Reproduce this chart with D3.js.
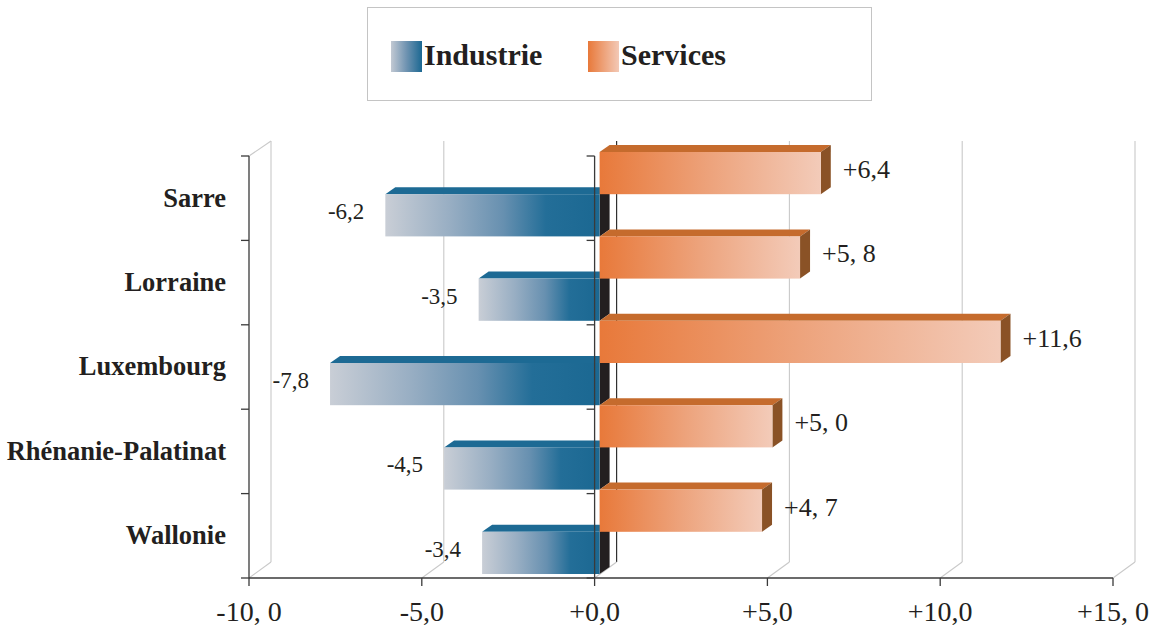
<!DOCTYPE html>
<html><head><meta charset="utf-8">
<script src="https://cdn.jsdelivr.net/npm/d3@7"></script>
<style>body{margin:0;background:#fff}svg{display:block}</style>
</head><body>
<svg id="c" width="1155" height="627"></svg>
<script>
const categories = ["Sarre","Lorraine","Luxembourg","Rhénanie-Palatinat","Wallonie"];
const industrie = [-6.2,-3.5,-7.8,-4.5,-3.4];
const services = [6.4,5.8,11.6,5.0,4.7];
const industrieLabels = ["-6,2","-3,5","-7,8","-4,5","-3,4"];
const servicesLabels = ["+6,4","+5, 8","+11,6","+5, 0","+4, 7"];
const tickValues = [-10,-5,0,5,10,15];
const tickLabels = ["-10, 0","-5,0","+0,0","+5,0","+10,0","+15, 0"];
const seriesNames = ["Industrie","Services"];

(function(){
const svg = d3.select("#c");
const serif = "'Liberation Serif','Times New Roman',serif";
const x = d3.scaleLinear().domain([-10,15]).range([249,1113]);
const y = d3.scaleBand().domain(categories).range([156,578]);
const wallDX = 22, wallDY = -16;   // depth of chart walls
const barOX = 5, barOY = -4;       // bar front offset
const bDX = 10, bDY = -7;          // bar depth

const defs = svg.append("defs");
function grad(id, stops){
  const g = defs.append("linearGradient").attr("id",id).attr("x1","0").attr("x2","1").attr("y1","0").attr("y2","0");
  stops.forEach(s=>g.append("stop").attr("offset",s[0]).attr("stop-color",s[1]));
}
grad("gBlue",[[0,"#c9ced6"],[0.3,"#98aec3"],[0.55,"#6790b0"],[0.75,"#236e98"],[1,"#1b6892"]]);
grad("gOrange",[[0,"#e8793a"],[0.5,"#eda37c"],[1,"#f3cbb9"]]);
grad("lBlue",[[0,"#c2c9d3"],[0.5,"#6f93b1"],[1,"#1b6892"]]);
grad("lOrange",[[0,"#e8793a"],[1,"#f3c9b6"]]);

// Legend
svg.append("rect").attr("x",367.5).attr("y",7.5).attr("width",504).attr("height",93)
  .attr("fill","#fff").attr("stroke","#c4c4c4").attr("stroke-width",1);
const legX = [391,588], legFill = ["url(#lBlue)","url(#lOrange)"];
seriesNames.forEach((n,i)=>{
  svg.append("rect").attr("x",legX[i]).attr("y",41).attr("width",31).attr("height",31).attr("fill",legFill[i]);
  svg.append("text").attr("x",legX[i]+33).attr("y",65).text(n)
    .attr("font-family",serif).attr("font-weight","bold").attr("font-size",30).attr("fill","#231f20");
});

// Walls / gridlines
const yTop = y.range()[0], yBot = y.range()[1];
const grid = svg.append("g");
tickValues.forEach(v=>{
  const xv = x(v);
  const dark = v===0;
  grid.append("line").attr("x1",xv+wallDX).attr("x2",xv+wallDX).attr("y1",yTop+wallDY+1).attr("y2",yBot+wallDY)
    .attr("stroke",dark?"#303030":"#c9c9c9").attr("stroke-width",dark?1.2:1.1);
  grid.append("line").attr("x1",xv).attr("y1",yBot).attr("x2",xv+wallDX).attr("y2",yBot+wallDY)
    .attr("stroke","#c9c9c9").attr("stroke-width",1.1);
});
grid.append("line").attr("x1",x(-10)).attr("y1",yTop).attr("x2",x(-10)+wallDX).attr("y2",yTop+wallDY+1)
  .attr("stroke","#c9c9c9").attr("stroke-width",1.1);

// Bars
const bars = svg.append("g");
function poly(pts){ return pts.map(p=>p.join(",")).join(" "); }
function bar3d(x0,x1,y0,y1,front,topC,sideC){
  bars.append("polygon").attr("points",poly([[x0,y0],[x1,y0],[x1+bDX,y0+bDY],[x0+bDX,y0+bDY]])).attr("fill",topC);
  bars.append("polygon").attr("points",poly([[x1,y0],[x1+bDX,y0+bDY],[x1+bDX,y1+bDY],[x1,y1]])).attr("fill",sideC);
  bars.append("rect").attr("x",x0).attr("y",y0).attr("width",x1-x0).attr("height",y1-y0).attr("fill",front);
}
const half = y.bandwidth()/2;
categories.forEach((c,i)=>{
  const b0 = y(c)+barOY;
  const iy0 = b0+half, iy1 = b0+y.bandwidth();
  bar3d(x(industrie[i])+barOX, x(0)+barOX, iy0, iy1, "url(#gBlue)", "#1d6a94", "#231f20");
  const sy0 = b0, sy1 = b0+half;
  bar3d(x(0)+barOX, x(services[i])+barOX, sy0, sy1, "url(#gOrange)", "#c56b2d", "#8a5226");
});

// Axes
const ax = svg.append("g").attr("stroke","#3a3a3a").attr("stroke-width",1.3);
ax.append("line").attr("x1",x(-10)).attr("x2",x(-10)).attr("y1",yTop).attr("y2",yBot);
ax.append("line").attr("x1",x(0)).attr("x2",x(0)).attr("y1",yTop).attr("y2",yBot);
ax.append("line").attr("x1",x(-10)).attr("x2",x(15)).attr("y1",yBot).attr("y2",yBot);
const bounds = categories.map(c=>y(c)).concat([yBot]);
bounds.forEach(b=>{
  ax.append("line").attr("x1",x(-10)-8).attr("x2",x(-10)).attr("y1",b).attr("y2",b);
  ax.append("line").attr("x1",x(0)-8).attr("x2",x(0)).attr("y1",b).attr("y2",b);
});
tickValues.forEach(v=>{
  ax.append("line").attr("x1",x(v)).attr("x2",x(v)).attr("y1",yBot).attr("y2",yBot+8);
});

// Tick labels
tickValues.forEach((v,i)=>{
  svg.append("text").attr("x",x(v)).attr("y",621).attr("text-anchor","middle")
    .attr("font-family",serif).attr("font-size",28).attr("fill","#231f20").text(tickLabels[i]);
});

// Category labels
categories.forEach(c=>{
  svg.append("text").attr("x",226).attr("y",y(c)+y.bandwidth()/2).attr("dy","0.32em")
    .attr("text-anchor","end").attr("font-family",serif).attr("font-weight","bold")
    .attr("font-size",26.5).attr("fill","#231f20").text(c);
});

// Value labels
categories.forEach((c,i)=>{
  const b0 = y(c)+barOY;
  svg.append("text").attr("x",x(services[i])+barOX+22).attr("y",b0+half/2-4).attr("dy","0.34em")
    .attr("font-family",serif).attr("font-size",26).attr("fill","#231f20").text(servicesLabels[i]);
  svg.append("text").attr("x",x(industrie[i])+barOX-21).attr("y",b0+half*1.5-4).attr("dy","0.34em")
    .attr("text-anchor","end").attr("font-family",serif).attr("font-size",23).attr("fill","#231f20").text(industrieLabels[i]);
});
})();
</script>
</body></html>
